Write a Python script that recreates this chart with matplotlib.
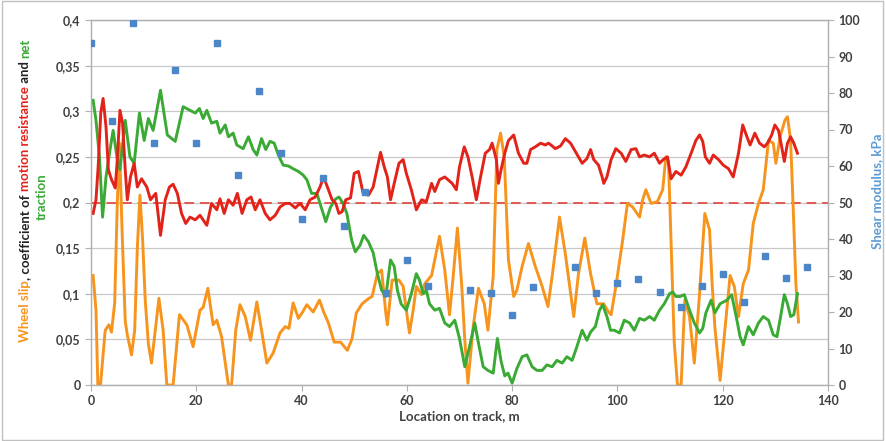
import matplotlib

matplotlib.use("Agg")
import matplotlib.pyplot as plt
from matplotlib.patches import Rectangle
from matplotlib.ticker import FuncFormatter, MultipleLocator

plt.rcParams["font.family"] = ["Lato", "DejaVu Sans"]

# ---- data ----
slip_x = [0.4, 0.95, 1.3, 1.8, 2.7, 3.4, 3.9, 4.5, 5.0, 5.4, 5.9, 6.5, 6.9, 7.7, 8.3, 8.8, 9.3, 9.8,
          10.3, 10.9, 11.5, 12.2, 12.9, 13.7, 14.4, 15.6, 16.8, 18.2, 19.4, 20.7, 21.3, 22.2, 23.2,
          23.9, 24.8, 25.6, 26.1, 26.7, 27.5, 28.3, 29.3, 30.3, 31.5, 32.4, 33.4, 34.6, 35.9, 36.9,
          37.6, 38.4, 39.4, 40.2, 41.0, 42.2, 43.4, 44.2, 45.1, 46.2, 47.4, 48.7, 49.6, 50.4, 51.5,
          52.8, 53.4, 54.4, 55.2, 56.0, 56.3, 57.2, 58.5, 59.3, 59.9, 60.5, 61.2, 61.8, 62.8, 63.4,
          64.7, 66.2, 67.2, 68.1, 68.8, 69.6, 70.4, 71.0, 71.6, 72.6, 73.6, 74.7, 75.4, 76.4, 77.1,
          77.8, 78.5, 79.3, 80.3, 80.9, 81.9, 83.1, 84.4, 85.7, 86.8, 87.6, 89.0, 90.1, 91.7, 92.6,
          93.8, 94.9, 96.1, 97.4, 98.3, 98.8, 99.7, 101.0, 101.9, 102.9, 104.2, 104.8, 105.4, 106.4,
          107.6, 108.6, 109.2, 109.7, 110.2, 110.8, 111.4, 112.1, 112.8, 113.7, 114.6, 115.6, 116.6,
          117.5, 118.0, 118.5, 119.5, 120.4, 121.4, 122.2, 123.0, 123.9, 124.9, 125.8, 126.8, 127.7,
          128.7, 129.6, 130.1, 130.9, 131.8, 132.3, 132.9, 133.4, 133.9, 134.4]
slip = [0.12, 0.082, 0.0, 0.0, 0.06, 0.066, 0.058, 0.09, 0.2, 0.265, 0.17, 0.07, 0.055, 0.033, 0.06,
        0.15, 0.208, 0.16, 0.093, 0.045, 0.024, 0.06, 0.095, 0.06, 0.0, 0.0, 0.077, 0.066, 0.042,
        0.082, 0.085, 0.106, 0.066, 0.071, 0.053, 0.02, 0.0, 0.0, 0.06, 0.088, 0.075, 0.049, 0.091,
        0.06, 0.024, 0.035, 0.057, 0.064, 0.062, 0.09, 0.073, 0.08, 0.088, 0.08, 0.093, 0.08, 0.068,
        0.047, 0.047, 0.038, 0.051, 0.079, 0.089, 0.095, 0.097, 0.122, 0.126, 0.079, 0.066, 0.115,
        0.115, 0.108, 0.082, 0.057, 0.082, 0.108, 0.099, 0.111, 0.12, 0.163, 0.126, 0.077, 0.119,
        0.172, 0.111, 0.05, 0.002, 0.064, 0.106, 0.089, 0.06, 0.119, 0.258, 0.276, 0.25, 0.137,
        0.097, 0.104, 0.13, 0.155, 0.13, 0.108, 0.086, 0.119, 0.184, 0.144, 0.075, 0.122, 0.161,
        0.122, 0.089, 0.089, 0.08, 0.077, 0.108, 0.159, 0.199, 0.195, 0.184, 0.203, 0.214, 0.199,
        0.201, 0.214, 0.25, 0.245, 0.155, 0.046, 0.0, 0.0, 0.093, 0.075, 0.024, 0.1, 0.188, 0.17,
        0.11, 0.064, 0.005, 0.06, 0.12, 0.108, 0.075, 0.111, 0.126, 0.177, 0.199, 0.214, 0.268,
        0.265, 0.243, 0.272, 0.29, 0.294, 0.268, 0.192, 0.111, 0.069]

traction_x = [0.4, 0.95, 1.6, 2.2, 2.85, 3.7, 4.2, 5.0, 5.5, 6.5, 7.4, 8.2, 9.2, 10.1, 10.9, 11.8,
              13.2, 14.5, 16.0, 17.5, 18.8, 19.8, 20.6, 21.3, 22.0, 22.9, 23.9, 24.5, 25.5, 26.1,
              27.0, 27.7, 28.9, 29.9, 30.8, 31.5, 32.4, 33.2, 34.0, 34.8, 35.6, 36.5, 37.5, 38.4,
              39.4, 40.3, 41.0, 41.9, 42.9, 44.1, 44.6, 45.5, 46.5, 47.1, 47.8, 48.6, 49.5, 50.2,
              51.1, 51.8, 52.7, 53.6, 54.4, 55.2, 56.0, 56.9, 57.6, 58.2, 58.9, 59.9, 60.85, 61.8,
              62.4, 63.1, 63.7, 64.3, 65.3, 66.2, 67.2, 68.1, 69.1, 70.0, 71.0, 71.9, 72.9, 73.5,
              74.5, 75.4, 76.4, 77.2, 77.9, 78.6, 79.2, 80.0, 80.9, 81.9, 82.8, 83.8, 84.7, 85.7,
              86.6, 87.6, 88.5, 89.5, 90.4, 91.4, 92.3, 93.3, 94.2, 94.9, 95.8, 96.6, 97.2, 98.0,
              98.7, 99.4, 100.4, 101.3, 102.3, 103.2, 104.2, 105.1, 106.1, 107.0, 108.0, 108.9,
              109.9, 110.5, 111.1, 111.9, 112.7, 113.7, 114.6, 115.6, 116.2, 116.8, 117.8, 118.5,
              119.5, 120.8, 121.7, 122.7, 123.3, 123.9, 124.9, 125.8, 126.8, 127.7, 128.7, 129.6,
              130.3, 131.0, 131.7, 132.3, 132.9, 133.5, 134.2]
traction = [0.312, 0.29, 0.25, 0.184, 0.228, 0.261, 0.279, 0.247, 0.236, 0.29, 0.25, 0.243, 0.298,
            0.268, 0.292, 0.279, 0.323, 0.274, 0.267, 0.305, 0.301, 0.298, 0.303, 0.292, 0.301,
            0.287, 0.289, 0.276, 0.285, 0.272, 0.276, 0.263, 0.259, 0.272, 0.258, 0.252, 0.27,
            0.258, 0.267, 0.265, 0.252, 0.241, 0.24, 0.237, 0.234, 0.23, 0.225, 0.21, 0.21, 0.188,
            0.179, 0.195, 0.204, 0.206, 0.2, 0.188, 0.159, 0.146, 0.153, 0.164, 0.157, 0.145, 0.122,
            0.104, 0.097, 0.137, 0.13, 0.104, 0.089, 0.082, 0.1, 0.122, 0.115, 0.1, 0.104, 0.089,
            0.082, 0.084, 0.068, 0.064, 0.071, 0.051, 0.02, 0.042, 0.068, 0.049, 0.02, 0.016, 0.013,
            0.051, 0.026, 0.01, 0.013, 0.002, 0.018, 0.031, 0.033, 0.02, 0.016, 0.016, 0.022, 0.02,
            0.027, 0.024, 0.031, 0.027, 0.042, 0.06, 0.049, 0.058, 0.064, 0.082, 0.088, 0.075, 0.06,
            0.06, 0.057, 0.071, 0.068, 0.06, 0.073, 0.071, 0.075, 0.071, 0.082, 0.089, 0.1, 0.102,
            0.097, 0.097, 0.099, 0.082, 0.068, 0.057, 0.062, 0.079, 0.093, 0.079, 0.089, 0.093,
            0.099, 0.071, 0.053, 0.044, 0.064, 0.055, 0.068, 0.075, 0.071, 0.055, 0.053, 0.075,
            0.099, 0.089, 0.075, 0.077, 0.1]

resist_x = [0.4, 0.95, 1.4, 1.85, 2.3, 2.85, 3.3, 3.9, 4.6, 5.0, 5.5, 6.0, 6.5, 6.9, 7.5, 8.2, 8.8,
            9.6, 10.6, 11.3, 12.3, 13.2, 14.1, 14.9, 15.6, 16.4, 17.2, 18.0, 18.8, 19.8, 20.7, 21.4,
            22.0, 22.9, 23.9, 24.5, 25.3, 26.1, 27.0, 27.8, 28.7, 29.6, 30.4, 31.2, 32.1, 33.1,
            34.0, 35.0, 35.9, 36.9, 37.8, 38.8, 39.7, 40.7, 41.6, 42.6, 43.5, 44.2, 44.9, 45.8,
            46.5, 47.1, 47.7, 48.4, 49.3, 50.0, 50.8, 51.7, 52.7, 53.6, 54.3, 55.0, 55.7, 56.3,
            56.9, 57.6, 58.5, 59.3, 59.9, 60.85, 61.8, 62.8, 63.7, 64.7, 65.3, 66.2, 67.2, 68.6,
            69.4, 70.0, 70.9, 71.6, 72.4, 73.2, 74.0, 74.9, 75.7, 76.2, 77.0, 77.4, 77.9, 78.6,
            79.3, 80.3, 81.2, 82.2, 82.8, 83.5, 84.4, 85.4, 86.3, 86.9, 87.6, 88.2, 89.2, 90.1,
            91.1, 91.7, 92.6, 93.3, 94.2, 94.9, 95.5, 96.4, 97.1, 97.4, 98.0, 98.8, 99.7, 100.7,
            101.6, 102.6, 103.5, 104.2, 105.1, 106.1, 107.0, 108.0, 108.7, 109.5, 110.2, 111.1,
            112.1, 113.0, 114.0, 114.9, 115.6, 116.2, 116.7, 117.5, 118.2, 119.2, 120.1, 121.1,
            122.0, 123.0, 123.8, 124.6, 125.2, 126.1, 127.0, 127.9, 128.5, 129.3, 129.9, 130.6,
            131.2, 131.7, 132.3, 132.9, 133.5, 134.2]
resist = [0.188, 0.203, 0.243, 0.298, 0.314, 0.283, 0.236, 0.225, 0.216, 0.247, 0.301, 0.287, 0.236,
          0.203, 0.228, 0.243, 0.217, 0.226, 0.217, 0.203, 0.21, 0.164, 0.203, 0.217, 0.22, 0.21,
          0.188, 0.177, 0.184, 0.181, 0.186, 0.18, 0.175, 0.199, 0.192, 0.204, 0.188, 0.203, 0.197,
          0.21, 0.188, 0.203, 0.206, 0.192, 0.203, 0.188, 0.181, 0.186, 0.195, 0.199, 0.199, 0.194,
          0.199, 0.192, 0.203, 0.206, 0.217, 0.228, 0.217, 0.203, 0.199, 0.188, 0.19, 0.203, 0.205,
          0.232, 0.234, 0.21, 0.208, 0.217, 0.236, 0.255, 0.239, 0.228, 0.203, 0.221, 0.243, 0.247,
          0.232, 0.214, 0.192, 0.203, 0.201, 0.221, 0.212, 0.225, 0.228, 0.221, 0.214, 0.239, 0.261,
          0.25, 0.228, 0.203, 0.228, 0.254, 0.258, 0.265, 0.247, 0.221, 0.236, 0.254, 0.268, 0.274,
          0.254, 0.243, 0.243, 0.258, 0.261, 0.265, 0.263, 0.265, 0.262, 0.259, 0.262, 0.27, 0.265,
          0.259, 0.25, 0.243, 0.248, 0.258, 0.247, 0.241, 0.228, 0.221, 0.228, 0.247, 0.259, 0.254,
          0.245, 0.258, 0.259, 0.25, 0.252, 0.25, 0.254, 0.243, 0.247, 0.25, 0.226, 0.234, 0.23,
          0.239, 0.254, 0.268, 0.274, 0.267, 0.25, 0.243, 0.252, 0.247, 0.241, 0.237, 0.228, 0.254,
          0.285, 0.272, 0.263, 0.276, 0.265, 0.261, 0.265, 0.274, 0.285, 0.279, 0.261, 0.245, 0.265,
          0.272, 0.265, 0.254]

shear_x = [0, 4, 8, 12, 16, 20, 24, 28, 32, 36, 40, 44, 48, 52, 56, 60, 64, 72, 76, 80, 84, 92, 96,
           100, 104, 108, 112, 116, 120, 124, 128, 132, 136]
shear = [93.7, 72.3, 99.2, 66.3, 86.3, 66.3, 93.7, 57.5, 80.5, 63.6, 45.5, 56.7, 43.6, 52.9, 25.3,
         34.2, 27.1, 26.0, 25.2, 19.2, 26.9, 32.4, 25.1, 27.9, 29.0, 25.6, 21.3, 27.2, 30.3, 22.8,
         35.3, 29.2, 32.2]

resist_ref = 0.2

ORANGE = "#F7941D"
GREEN = "#3AAA35"
RED = "#E2231A"
BLUE = "#4A86C8"
TXT = "#404040"

fig = plt.figure(figsize=(8.86, 4.41), dpi=100)
ax = fig.add_axes([91 / 886, 56 / 441, 737 / 886, 365 / 441])
ax2 = ax.twinx()

ax.axhline(resist_ref, color="#E05A50", lw=1.4, ls=(0, (5, 3)), zorder=2)
ax.plot(slip_x, slip, color=ORANGE, lw=2.1, zorder=3)
ax.plot(traction_x, traction, color=GREEN, lw=2.1, zorder=4)
ax.plot(resist_x, resist, color=RED, lw=2.1, zorder=5)
ax2.plot(shear_x, shear, ls="none", marker="s", ms=4.2, color=BLUE, zorder=6)

ax.set_xlim(0, 140)
ax.set_ylim(0, 0.4)
ax2.set_ylim(0, 100)
ax.xaxis.set_major_locator(MultipleLocator(20))
ax.yaxis.set_major_locator(MultipleLocator(0.05))
ax2.yaxis.set_major_locator(MultipleLocator(10))
ax.yaxis.set_major_formatter(FuncFormatter(lambda v, p: f"{v:g}".replace(".", ",")))
ax.grid(axis="y", color="#C8C8C8", lw=0.9, zorder=0)
ax.set_axisbelow(True)

for a in (ax, ax2):
    for s in a.spines.values():
        s.set_color("#B0B0B0")
        s.set_linewidth(0.9)
    a.tick_params(colors="#B0B0B0", labelcolor=TXT, labelsize=9, length=4, width=0.8)
    for lab in a.get_xticklabels() + a.get_yticklabels():
        lab.set_fontweight("bold")

ax.set_xlabel("Location on track, m", fontsize=9.5, fontweight="bold", color=TXT, labelpad=2)

fig.text(877 / 886, 1 - 191 / 441, "Shear modulus, kPa", rotation=90, ha="center", va="center",
         fontsize=9.5, fontweight="bold", color="#5B9BD5")

# multi-coloured left axis title, built piece by piece
renderer = fig.canvas.get_renderer()
pieces = [("Wheel slip", ORANGE), (", coefficient of ", "#222222"), ("motion resistance", RED),
          (" and ", "#222222"), ("net", GREEN)]
tmp = []
total = 0
for s, c in pieces:
    t = fig.text(0, 0, s, rotation=90, fontsize=9.5, fontweight="bold", color=c,
                 ha="center", va="bottom", transform=None)
    h = t.get_window_extent(renderer).height
    tmp.append((t, h))
    total += h
y = (441 - 190) - total / 2
for t, h in tmp:
    t.set_position((25, y))
    y += h
fig.text(42, 441 - 197, "traction", rotation=90, fontsize=9.5, fontweight="bold", color=GREEN,
         ha="center", va="center", transform=None)

fig.patches.append(Rectangle((0.002, 0.003), 0.995, 0.994, transform=fig.transFigure,
                             fill=False, edgecolor="#C0C0C0", lw=1))

fig.savefig("out.png", dpi=100, facecolor="white")
